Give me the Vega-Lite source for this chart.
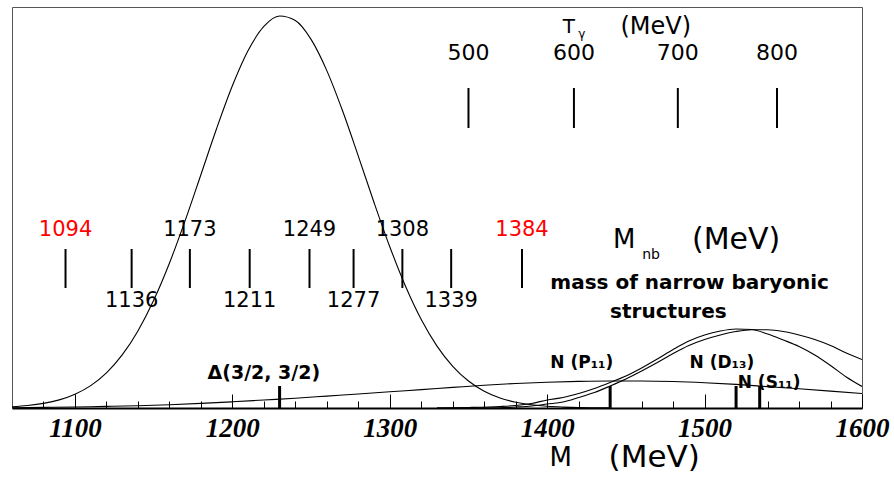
{
  "$schema": "https://vega.github.io/schema/vega-lite/v6.json",
  "width": 850,
  "height": 401,
  "autosize": {"type": "none"},
  "padding": {"left": 12, "top": 7, "right": 32, "bottom": 71},
  "background": "white",
  "config": {
    "view": {"stroke": "#555", "strokeWidth": 1},
    "text": {"font": "DejaVu Sans"}
  },
  "datasets": {
    "curves": [
      {"c": "Delta", "m": 1060, "h": 1.3}, {"c": "Delta", "m": 1070, "h": 2.5}, {"c": "Delta", "m": 1080, "h": 4.6},
      {"c": "Delta", "m": 1090, "h": 8.1}, {"c": "Delta", "m": 1100, "h": 13.8}, {"c": "Delta", "m": 1110, "h": 22.4},
      {"c": "Delta", "m": 1120, "h": 35.2}, {"c": "Delta", "m": 1130, "h": 53.1}, {"c": "Delta", "m": 1140, "h": 77.1},
      {"c": "Delta", "m": 1150, "h": 107.7}, {"c": "Delta", "m": 1160, "h": 144.8}, {"c": "Delta", "m": 1170, "h": 187.4},
      {"c": "Delta", "m": 1180, "h": 233.3}, {"c": "Delta", "m": 1190, "h": 279.5}, {"c": "Delta", "m": 1200, "h": 322.2},
      {"c": "Delta", "m": 1210, "h": 357.5}, {"c": "Delta", "m": 1220, "h": 381.6}, {"c": "Delta", "m": 1230, "h": 392.0},
      {"c": "Delta", "m": 1240, "h": 387.5}, {"c": "Delta", "m": 1250, "h": 368.6}, {"c": "Delta", "m": 1260, "h": 337.4},
      {"c": "Delta", "m": 1270, "h": 297.2}, {"c": "Delta", "m": 1280, "h": 251.9}, {"c": "Delta", "m": 1290, "h": 205.5},
      {"c": "Delta", "m": 1300, "h": 161.3}, {"c": "Delta", "m": 1310, "h": 121.8}, {"c": "Delta", "m": 1320, "h": 88.5},
      {"c": "Delta", "m": 1330, "h": 61.9}, {"c": "Delta", "m": 1340, "h": 41.7}, {"c": "Delta", "m": 1350, "h": 27.0},
      {"c": "Delta", "m": 1360, "h": 16.8}, {"c": "Delta", "m": 1370, "h": 10.1}, {"c": "Delta", "m": 1380, "h": 5.8},
      {"c": "Delta", "m": 1390, "h": 3.2}, {"c": "Delta", "m": 1400, "h": 1.7}, {"c": "Delta", "m": 1410, "h": 0.9},
      {"c": "Delta", "m": 1420, "h": 0.4}, {"c": "Delta", "m": 1440, "h": 0.1},
      {"c": "Broad", "m": 1060, "h": 0.2}, {"c": "Broad", "m": 1080, "h": 0.6}, {"c": "Broad", "m": 1100, "h": 1.0},
      {"c": "Broad", "m": 1120, "h": 1.6}, {"c": "Broad", "m": 1140, "h": 2.3}, {"c": "Broad", "m": 1160, "h": 3.3},
      {"c": "Broad", "m": 1180, "h": 4.6}, {"c": "Broad", "m": 1200, "h": 6.2}, {"c": "Broad", "m": 1220, "h": 8.0},
      {"c": "Broad", "m": 1240, "h": 9.8}, {"c": "Broad", "m": 1260, "h": 11.9}, {"c": "Broad", "m": 1280, "h": 14.0},
      {"c": "Broad", "m": 1300, "h": 16.2}, {"c": "Broad", "m": 1320, "h": 18.4}, {"c": "Broad", "m": 1340, "h": 20.6},
      {"c": "Broad", "m": 1360, "h": 22.8}, {"c": "Broad", "m": 1380, "h": 24.5}, {"c": "Broad", "m": 1400, "h": 25.8},
      {"c": "Broad", "m": 1420, "h": 26.6}, {"c": "Broad", "m": 1440, "h": 27.0}, {"c": "Broad", "m": 1460, "h": 27.0},
      {"c": "Broad", "m": 1480, "h": 26.5}, {"c": "Broad", "m": 1500, "h": 25.3}, {"c": "Broad", "m": 1520, "h": 23.6},
      {"c": "Broad", "m": 1540, "h": 21.4}, {"c": "Broad", "m": 1560, "h": 19.2}, {"c": "Broad", "m": 1580, "h": 16.9},
      {"c": "Broad", "m": 1600, "h": 14.5},
      {"c": "D13", "m": 1330, "h": 0}, {"c": "D13", "m": 1350, "h": 0.5}, {"c": "D13", "m": 1370, "h": 1.5},
      {"c": "D13", "m": 1380, "h": 2.5}, {"c": "D13", "m": 1390, "h": 4.5}, {"c": "D13", "m": 1400, "h": 8},
      {"c": "D13", "m": 1410, "h": 10.5}, {"c": "D13", "m": 1420, "h": 14.5}, {"c": "D13", "m": 1430, "h": 19.5},
      {"c": "D13", "m": 1440, "h": 25.5}, {"c": "D13", "m": 1450, "h": 32}, {"c": "D13", "m": 1460, "h": 40},
      {"c": "D13", "m": 1470, "h": 49}, {"c": "D13", "m": 1480, "h": 58.5}, {"c": "D13", "m": 1490, "h": 67},
      {"c": "D13", "m": 1500, "h": 73}, {"c": "D13", "m": 1510, "h": 77}, {"c": "D13", "m": 1520, "h": 79},
      {"c": "D13", "m": 1530, "h": 78.5}, {"c": "D13", "m": 1540, "h": 74}, {"c": "D13", "m": 1550, "h": 68},
      {"c": "D13", "m": 1560, "h": 61.5}, {"c": "D13", "m": 1570, "h": 53}, {"c": "D13", "m": 1580, "h": 42.5},
      {"c": "D13", "m": 1590, "h": 31}, {"c": "D13", "m": 1600, "h": 21.5},
      {"c": "S11", "m": 1330, "h": 0}, {"c": "S11", "m": 1370, "h": 0.3}, {"c": "S11", "m": 1380, "h": 1},
      {"c": "S11", "m": 1390, "h": 2}, {"c": "S11", "m": 1400, "h": 4}, {"c": "S11", "m": 1410, "h": 6},
      {"c": "S11", "m": 1420, "h": 10.5}, {"c": "S11", "m": 1430, "h": 15.5}, {"c": "S11", "m": 1440, "h": 22},
      {"c": "S11", "m": 1450, "h": 29}, {"c": "S11", "m": 1460, "h": 37}, {"c": "S11", "m": 1470, "h": 45.5},
      {"c": "S11", "m": 1480, "h": 54.5}, {"c": "S11", "m": 1490, "h": 62.5}, {"c": "S11", "m": 1500, "h": 68.5},
      {"c": "S11", "m": 1510, "h": 73}, {"c": "S11", "m": 1520, "h": 76.5}, {"c": "S11", "m": 1530, "h": 78.3},
      {"c": "S11", "m": 1540, "h": 78.2}, {"c": "S11", "m": 1550, "h": 76.5}, {"c": "S11", "m": 1560, "h": 73},
      {"c": "S11", "m": 1570, "h": 68.5}, {"c": "S11", "m": 1580, "h": 62.5}, {"c": "S11", "m": 1590, "h": 55},
      {"c": "S11", "m": 1600, "h": 48.5}
    ],
    "resonances": [
      {"name": "Delta(1232)", "m": 1230},
      {"name": "N(1440) P11", "m": 1440},
      {"name": "N(1520) D13", "m": 1520},
      {"name": "N(1535) S11", "m": 1535}
    ],
    "narrow": [
      {"m": 1094}, {"m": 1136}, {"m": 1173}, {"m": 1211}, {"m": 1249},
      {"m": 1277}, {"m": 1308}, {"m": 1339}, {"m": 1384}
    ],
    "tgamma": [
      {"tg": 500, "m": 1350}, {"tg": 600, "m": 1417}, {"tg": 700, "m": 1483}, {"tg": 800, "m": 1546}
    ]
  },
  "encoding": {
    "x": {
      "field": "m", "type": "quantitative",
      "scale": {"domain": [1060, 1600], "nice": false, "zero": false},
      "axis": {
        "values": [1080, 1100, 1120, 1140, 1160, 1180, 1200, 1220, 1240, 1260, 1280, 1300, 1320, 1340, 1360, 1380, 1400, 1420, 1440, 1460, 1480, 1500, 1520, 1540, 1560, 1580, 1600],
        "format": "d",
        "labelExpr": "datum.value % 100 === 0 ? datum.label : ''",
        "tickSize": {"condition": {"test": "datum.value % 100 === 0", "value": -14}, "value": -7},
        "tickColor": "black",
        "tickWidth": 1,
        "domainColor": "black",
        "domainWidth": 2,
        "grid": false,
        "title": null,
        "labelFont": "Liberation Serif",
        "labelFontStyle": "italic",
        "labelFontWeight": "bold",
        "labelFontSize": 27,
        "labelColor": "black",
        "labelPadding": 21,
        "labelFlush": false,
        "labelOverlap": false
      }
    }
  },
  "layer": [
    {
      "data": {"name": "curves"},
      "mark": {"type": "line", "interpolate": "monotone", "color": "black", "strokeWidth": 1.1, "clip": true},
      "encoding": {
        "y": {"field": "h", "type": "quantitative", "scale": {"domain": [0, 401], "nice": false, "zero": false}, "axis": null},
        "detail": {"field": "c", "type": "nominal"}
      }
    },
    {
      "data": {"name": "resonances"},
      "mark": {"type": "rule", "color": "black", "strokeWidth": 3},
      "encoding": {
        "y": {"datum": 0, "type": "quantitative", "axis": null},
        "y2": {"datum": 22}
      }
    },
    {
      "data": {"values": [{"label": "Δ(3/2, 3/2)", "m": 1220}]},
      "mark": {"type": "text", "fontSize": 19, "fontWeight": "bold", "baseline": "middle", "color": "black"},
      "encoding": {
        "y": {"datum": 35, "type": "quantitative", "axis": null},
        "text": {"field": "label"}
      }
    },
    {
      "data": {"values": [{"label": "N (P₁₁)", "m": 1422}, {"label": "N (D₁₃)", "m": 1511}]},
      "mark": {"type": "text", "fontSize": 17, "fontWeight": "bold", "baseline": "middle", "color": "black"},
      "encoding": {
        "y": {"datum": 45, "type": "quantitative", "axis": null},
        "text": {"field": "label"}
      }
    },
    {
      "data": {"values": [{"label": "N (S₁₁)", "m": 1541}]},
      "mark": {"type": "text", "fontSize": 17, "fontWeight": "bold", "baseline": "middle", "color": "black"},
      "encoding": {
        "y": {"datum": 25, "type": "quantitative", "axis": null},
        "text": {"field": "label"}
      }
    },
    {
      "data": {"name": "narrow"},
      "mark": {"type": "rule", "color": "black", "strokeWidth": 2},
      "encoding": {
        "y": {"datum": 120, "type": "quantitative", "axis": null},
        "y2": {"datum": 159}
      }
    },
    {
      "data": {"name": "narrow"},
      "transform": [{"filter": "indexof([1094, 1173, 1249, 1308, 1384], datum.m) >= 0"}],
      "mark": {"type": "text", "fontSize": 21, "baseline": "middle"},
      "encoding": {
        "y": {"datum": 178, "type": "quantitative", "axis": null},
        "text": {"field": "m", "type": "quantitative", "format": "d"},
        "color": {"condition": {"test": "datum.m === 1094 || datum.m === 1384", "value": "#ff0000"}, "value": "black"}
      }
    },
    {
      "data": {"name": "narrow"},
      "transform": [{"filter": "indexof([1136, 1211, 1277, 1339], datum.m) >= 0"}],
      "mark": {"type": "text", "fontSize": 21, "baseline": "middle", "color": "black"},
      "encoding": {
        "y": {"datum": 107, "type": "quantitative", "axis": null},
        "text": {"field": "m", "type": "quantitative", "format": "d"}
      }
    },
    {
      "data": {"name": "tgamma"},
      "mark": {"type": "rule", "color": "black", "strokeWidth": 2},
      "encoding": {
        "y": {"datum": 280, "type": "quantitative", "axis": null},
        "y2": {"datum": 320}
      }
    },
    {
      "data": {"name": "tgamma"},
      "mark": {"type": "text", "fontSize": 22, "baseline": "middle", "color": "black"},
      "encoding": {
        "y": {"datum": 355, "type": "quantitative", "axis": null},
        "text": {"field": "tg", "type": "quantitative", "format": "d"}
      }
    },
    {
      "data": {"values": [{"t": "T", "m": 1413.7}]},
      "mark": {"type": "text", "fontSize": 20, "baseline": "middle", "color": "black"},
      "encoding": {
        "y": {"datum": 381, "type": "quantitative", "axis": null},
        "text": {"field": "t"}
      }
    },
    {
      "data": {"values": [{"t": "γ", "m": 1422}]},
      "mark": {"type": "text", "fontSize": 12, "baseline": "middle", "color": "black"},
      "encoding": {
        "y": {"datum": 374, "type": "quantitative", "axis": null},
        "text": {"field": "t"}
      }
    },
    {
      "data": {"values": [{"t": "(MeV)", "m": 1469}]},
      "mark": {"type": "text", "fontSize": 24, "baseline": "middle", "color": "black"},
      "encoding": {
        "y": {"datum": 381, "type": "quantitative", "axis": null},
        "text": {"field": "t"}
      }
    },
    {
      "data": {"values": [{"t": "M", "m": 1449}]},
      "mark": {"type": "text", "fontSize": 26, "baseline": "middle", "color": "black"},
      "encoding": {
        "y": {"datum": 168, "type": "quantitative", "axis": null},
        "text": {"field": "t"}
      }
    },
    {
      "data": {"values": [{"t": "nb", "m": 1466}]},
      "mark": {"type": "text", "fontSize": 14, "baseline": "middle", "color": "black"},
      "encoding": {
        "y": {"datum": 153, "type": "quantitative", "axis": null},
        "text": {"field": "t"}
      }
    },
    {
      "data": {"values": [{"t": "(MeV)", "m": 1520}]},
      "mark": {"type": "text", "fontSize": 30, "baseline": "middle", "color": "black"},
      "encoding": {
        "y": {"datum": 168, "type": "quantitative", "axis": null},
        "text": {"field": "t"}
      }
    },
    {
      "data": {"values": [{"t": "mass of narrow baryonic", "m": 1490.5}]},
      "mark": {"type": "text", "fontSize": 20, "fontWeight": "bold", "baseline": "middle", "color": "black"},
      "encoding": {
        "y": {"datum": 125, "type": "quantitative", "axis": null},
        "text": {"field": "t"}
      }
    },
    {
      "data": {"values": [{"t": "structures", "m": 1477}]},
      "mark": {"type": "text", "fontSize": 20, "fontWeight": "bold", "baseline": "middle", "color": "black"},
      "encoding": {
        "y": {"datum": 96, "type": "quantitative", "axis": null},
        "text": {"field": "t"}
      }
    },
    {
      "data": {"values": [{"t": "M", "m": 1408.6}]},
      "mark": {"type": "text", "fontSize": 26, "baseline": "middle", "color": "black"},
      "encoding": {
        "y": {"datum": -50, "type": "quantitative", "axis": null},
        "text": {"field": "t"}
      }
    },
    {
      "data": {"values": [{"t": "(MeV)", "m": 1468}]},
      "mark": {"type": "text", "fontSize": 31, "baseline": "middle", "color": "black"},
      "encoding": {
        "y": {"datum": -50, "type": "quantitative", "axis": null},
        "text": {"field": "t"}
      }
    }
  ]
}
